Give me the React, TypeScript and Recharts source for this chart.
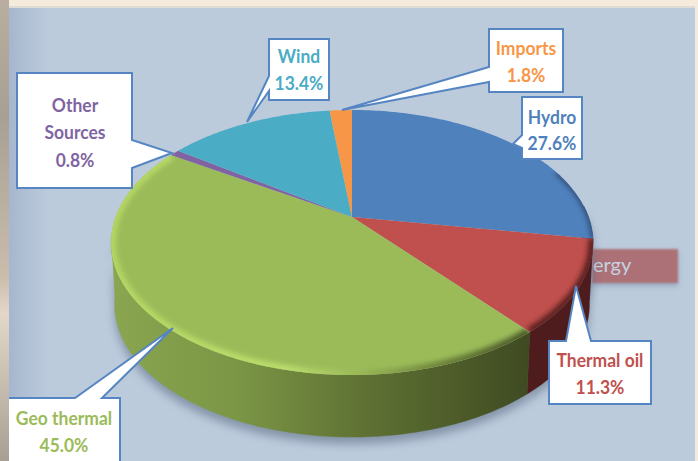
import React from "react";
import { PieChart, Pie, Cell } from "recharts";

const categories = ["Hydro", "Thermal oil", "Geo thermal", "Other Sources", "Wind", "Imports"];
const shares = [27.6, 11.3, 45.0, 0.8, 13.4, 1.8];
const colors = ["#4F81BD", "#C0504D", "#9BBB59", "#8064A2", "#4BACC6", "#F79646"];
const textColors = ["#4F81BD", "#C0504D", "#9BBB59", "#8064A2", "#4BACC6", "#F79646"];
const wallColors = ["#27405f", "#4e1c1c", "url(#geoWall)", "#4a3a60", "#2a6070", "#7a4a20"];
const rimColors = ["#2b4468", "#5e2322", "url(#geoRim)", "#8064A2", "#4BACC6", "#F79646"];

const rows = categories.map((name, i) => ({ name, value: shares[i] }));

const W = 698;
const H = 461;
const CX = 352;
const CY = 217;
const RX = 236.5;
const RY = 127.6;
const K = 0.1925;
const DEPTH = 62;
const BOTTOM_SCALE = 0.985;

type Pt = [number, number];

const project = (cw: number, cx: number, cy: number): Pt => {
  const t = (cw * Math.PI) / 180;
  const u = Math.sin(t);
  const v = Math.cos(t);
  const w = 1 + K * v;
  return [cx + (RX * u) / w, cy - (RY * v) / w];
};

const lower = ([x, y]: Pt, cx: number): Pt => [cx + (x - cx) * BOTTOM_SCALE, y + DEPTH];

const rim = (a: number, b: number, cx: number, cy: number): Pt[] => {
  const n = Math.max(1, Math.ceil(Math.abs(b - a)));
  const out: Pt[] = [];
  for (let i = 0; i <= n; i++) out.push(project(a + ((b - a) * i) / n, cx, cy));
  return out;
};

const toPath = (pts: Pt[], close = false) =>
  pts.map((p, i) => `${i ? "L" : "M"}${p[0].toFixed(2)} ${p[1].toFixed(2)}`).join("") + (close ? "Z" : "");

const cwRange = (props: any): [number, number] => [90 - props.startAngle, 90 - props.endAngle];

const wallPoints = (props: any, from: number, to: number): Pt[] | null => {
  const [a, b] = cwRange(props);
  const s = Math.max(a, from);
  const e = Math.min(b, to);
  if (e <= s) return null;
  const top = rim(s, e, props.cx, props.cy);
  const bottom = top.map((p) => lower(p, props.cx)).reverse();
  return [...top, ...bottom];
};

const ShadowShape = (props: any) => {
  const pts = wallPoints(props, 85, 262);
  if (!pts) return <g />;
  return (
    <path
      d={toPath(pts, true)}
      transform="translate(0 7)"
      fill="#56667e"
      opacity={0.55}
      filter="url(#softShadow)"
    />
  );
};

const WallShape = (props: any) => {
  const pts = wallPoints(props, 85, 262);
  if (!pts) return <g />;
  const fill = wallColors[props.index];
  return <path d={toPath(pts, true)} fill={fill} stroke={fill} strokeWidth={0.5} />;
};

const TopShape = (props: any) => {
  const [a, b] = cwRange(props);
  const { cx, cy, index } = props;
  const edge = rim(a, b, cx, cy);
  const d = toPath([[cx, cy], ...edge], true);
  const s = Math.max(a, index === 0 ? 68 : 0);
  const e = Math.min(b, 305);
  const id = `topClip${index}`;
  return (
    <g>
      <clipPath id={id}>
        <path d={d} />
      </clipPath>
      <path d={d} fill={colors[index]} />
      {e > s && index < 3 ? (
        <g clipPath={`url(#${id})`}>
          <path
            d={toPath(rim(s, e, cx, cy))}
            fill="none"
            stroke={rimColors[index]}
            strokeWidth={index === 0 ? 4 : 10}
            filter="url(#softRim)"
          />
        </g>
      ) : null}
    </g>
  );
};

type Callout = {
  box: [number, number, number, number];
  tip: Pt;
  tail: [Pt, Pt];
  lineYs: number[];
};

const callouts: Callout[] = [
  { box: [522, 97, 582, 159], tip: [513, 144], tail: [[522, 135], [522, 148]], lineYs: [117, 143] },
  { box: [549, 341, 651, 404], tip: [576, 286], tail: [[566, 341], [591, 341]], lineYs: [360, 387] },
  { box: [4, 398, 120, 470], tip: [173, 328], tail: [[75, 398], [102, 398]], lineYs: [418, 445] },
  { box: [17, 73, 132, 188], tip: [172, 153], tail: [[132, 140], [132, 168]], lineYs: [105, 132, 160] },
  { box: [269, 39, 329, 100], tip: [247, 122], tail: [[269, 76], [269, 91]], lineYs: [56, 83] },
  { box: [489, 29, 563, 92], tip: [342, 110], tail: [[489, 67], [489, 82]], lineYs: [48, 75] },
];

const textCentres = [552, 600, 64, 75, 299, 526];

const CalloutLabel = (props: any) => {
  const i = props.index;
  const c = callouts[i];
  const [x0, y0, x1, y1] = c.box;
  const name = categories[i];
  const lines = name === "Other Sources" ? name.split(" ") : [name];
  const all = [...lines, `${shares[i].toFixed(1)}%`];
  const [t0, t1] = c.tail;
  let pts: Pt[];
  if (t0[1] === y0 && t1[1] === y0) {
    pts = [[x0, y0], t0, c.tip, t1, [x1, y0], [x1, y1], [x0, y1]];
  } else if (t0[0] === x1) {
    pts = [[x0, y0], [x1, y0], t0, c.tip, t1, [x1, y1], [x0, y1]];
  } else {
    pts = [[x0, y0], [x1, y0], [x1, y1], [x0, y1], t1, c.tip, t0];
  }
  return (
    <g>
      <path d={toPath(pts, true)} fill="#fff" stroke="#5585C2" strokeWidth={2} strokeLinejoin="miter" />
      {all.map((t, k) => (
        <text
          key={k}
          transform={`translate(${textCentres[i]} ${c.lineYs[k]}) scale(0.92 1)`}
          textAnchor="middle"
          dominantBaseline="central"
          fontFamily="Lato, sans-serif"
          fontWeight={700}
          fontSize={19}
          fill={textColors[i]}
        >
          {t}
        </text>
      ))}
    </g>
  );
};

export default function App() {
  return (
    <div style={{ position: "absolute", left: 0, top: 0, width: W, height: H, overflow: "hidden", background: "#F5EBDC" }}>
      <div style={{ position: "absolute", left: 9, top: 6, width: 686, height: 460, background: "linear-gradient(90deg,#A6B6CE 0,#BCCBDC 40px)", borderTop: "2px solid #DEDCD4", boxSizing: "border-box" }} />
      <div style={{ position: "absolute", left: 592, top: 249, width: 86, height: 34, background: "#AB7176", filter: "blur(1px)", boxShadow: "0 3px 5px rgba(90,100,130,.35)" }} />
      <div style={{ position: "absolute", left: 593, top: 249, height: 34, lineHeight: "30px", color: "#C6D2E2", fontFamily: "Lato, sans-serif", fontSize: 20 }}>ergy</div>
      <div style={{ position: "absolute", left: 0, top: 0 }}>
        <PieChart width={W} height={H} margin={{ top: 0, right: 0, bottom: 0, left: 0 }}>
          <defs>
            <linearGradient id="geoWall" gradientUnits="userSpaceOnUse" x1={111} y1={0} x2={530} y2={0}>
              <stop offset="0" stopColor="#8AA650" />
              <stop offset="0.3" stopColor="#7B9645" />
              <stop offset="0.6" stopColor="#5F7233" />
              <stop offset="1" stopColor="#3F4A22" />
            </linearGradient>
            <linearGradient id="geoRim" gradientUnits="userSpaceOnUse" x1={111} y1={0} x2={530} y2={0}>
              <stop offset="0" stopColor="#B4D663" />
              <stop offset="0.42" stopColor="#BBDD6C" />
              <stop offset="0.58" stopColor="#9BBB59" />
              <stop offset="0.8" stopColor="#6A7F3A" />
              <stop offset="1" stopColor="#4A5828" />
            </linearGradient>
            <filter id="softShadow" filterUnits="userSpaceOnUse" x={0} y={0} width={W} height={H}>
              <feGaussianBlur stdDeviation={5} />
            </filter>
            <filter id="softRim" filterUnits="userSpaceOnUse" x={0} y={0} width={W} height={H}>
              <feGaussianBlur stdDeviation={2.5} />
            </filter>
          </defs>
          <Pie data={rows} dataKey="value" nameKey="name" cx={CX} cy={CY} outerRadius={100} startAngle={90} endAngle={-270} paddingAngle={0} stroke="none" isAnimationActive={false} shape={ShadowShape} />
          <Pie data={rows} dataKey="value" nameKey="name" cx={CX} cy={CY} outerRadius={100} startAngle={90} endAngle={-270} paddingAngle={0} stroke="none" isAnimationActive={false} shape={WallShape} />
          <Pie data={rows} dataKey="value" nameKey="name" cx={CX} cy={CY} outerRadius={100} startAngle={90} endAngle={-270} paddingAngle={0} stroke="none" isAnimationActive={false} shape={TopShape} label={CalloutLabel} labelLine={false}>
            {rows.map((r, i) => (
              <Cell key={r.name} fill={colors[i]} />
            ))}
          </Pie>
        </PieChart>
      </div>
      <div style={{ position: "absolute", left: 0, top: 0, width: 9, height: H, background: "linear-gradient(180deg,#B9AE9F 0,#A8A095 25%,#C9BDAC 60%,#E3D8C8 68%,#A89F94 100%)" }} />
    </div>
  );
}
